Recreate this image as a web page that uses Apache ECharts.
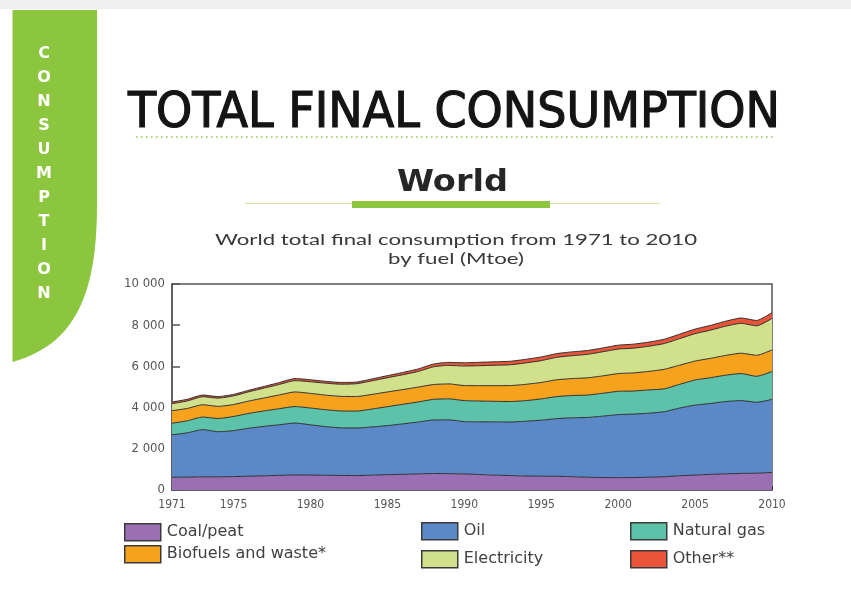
<!DOCTYPE html>
<html>
<head>
<meta charset="utf-8">
<script src="https://cdn.jsdelivr.net/npm/echarts@6/dist/echarts.min.js"></script>
<style>
  html, body { margin: 0; padding: 0; background: #ffffff; }
  #chart { width: 851px; height: 598px; }
</style>
</head>
<body>
<div id="chart"></div>
<script>
// World total final consumption by fuel, 1971-2010 (Mtoe)
const years = ['1971','1972','1973','1974','1975','1976','1977','1978','1979','1980',
  '1981','1982','1983','1984','1985','1986','1987','1988','1989','1990',
  '1991','1992','1993','1994','1995','1996','1997','1998','1999','2000',
  '2001','2002','2003','2004','2005','2006','2007','2008','2009','2010'];

const labelYears = ['1971','1975','1980','1985','1990','1995','2000','2005','2010'];

const coalPeat = [620,625,640,640,650,670,690,710,730,725,715,705,700,720,745,760,780,800,795,780,
  750,720,700,680,670,665,645,620,605,600,605,620,645,690,725,760,785,805,815,850];

const oil = [2060,2150,2290,2190,2230,2330,2400,2460,2520,2440,2360,2310,2310,2340,2380,2450,2520,2600,2610,2540,
  2560,2590,2600,2660,2720,2800,2860,2900,2980,3060,3080,3110,3155,3290,3395,3440,3510,3535,3445,3550];

const naturalGas = [560,585,610,640,690,720,750,780,800,815,820,820,820,870,920,950,975,1000,1020,1020,
  1010,995,995,1000,1030,1070,1080,1090,1110,1130,1120,1130,1110,1150,1220,1250,1280,1310,1260,1350];

const biofuels = [610,600,600,590,580,600,630,670,710,710,710,710,710,710,715,715,720,720,725,730,
  745,760,775,790,800,815,825,835,845,860,880,900,950,930,920,940,960,990,1020,1050];

const electricity = [340,365,390,400,420,450,480,510,550,565,580,590,620,660,690,720,760,860,900,950,
  970,990,1010,1040,1060,1090,1110,1140,1170,1190,1200,1220,1250,1290,1330,1370,1420,1450,1430,1530];

const other = [80,80,80,75,70,75,80,90,100,95,90,85,80,90,100,110,120,135,145,155,
  165,170,170,175,180,180,185,185,185,190,195,200,210,215,220,230,240,260,260,280];

const yTicks = [0, 2000, 4000, 6000, 8000, 10000];

const fuels = [
  { name: 'Coal/peat', data: coalPeat, color: '#9b6fb4' },
  { name: 'Oil', data: oil, color: '#5b88c6' },
  { name: 'Natural gas', data: naturalGas, color: '#5cc2a9' },
  { name: 'Biofuels and waste*', data: biofuels, color: '#f6a21c' },
  { name: 'Electricity', data: electricity, color: '#d1e18b' },
  { name: 'Other**', data: other, color: '#ea553a' }
];

// measure text so display lettering can be stretched to its box
const ctx = document.createElement('canvas').getContext('2d');
function textWidth(str, font) { ctx.font = font; return ctx.measureText(str).width; }

const titleText = 'TOTAL FINAL CONSUMPTION';
const titleFont = "30px 'Liberation Sans Narrow', 'DejaVu Sans Condensed', 'Liberation Sans'";
const titleScaleX = 652 / textWidth(titleText, titleFont);

const worldFont = "bold 31px 'DejaVu Sans'";
const worldScaleX = 111 / textWidth('World', worldFont);

const captionLine1 = 'World total final consumption from 1971 to 2010';
const captionFont = "16px 'Lato'";
const captionScaleX = 482 / textWidth(captionLine1, captionFont);

// outline of the green side tab: straight top part, curved lower edge
function tabOutline() {
  const pts = [[12.5, 10], [97, 10], [97, 205]];
  const p0 = [97, 205], c1 = [97, 300], c2 = [72, 345], p3 = [12.5, 362];
  for (let i = 1; i <= 24; i++) {
    const t = i / 24, u = 1 - t;
    pts.push([
      u*u*u*p0[0] + 3*u*u*t*c1[0] + 3*u*t*t*c2[0] + t*t*t*p3[0],
      u*u*u*p0[1] + 3*u*u*t*c1[1] + 3*u*t*t*c2[1] + t*t*t*p3[1]
    ]);
  }
  return pts;
}

const chart = echarts.init(document.getElementById('chart'), null, { renderer: 'canvas' });

const legendPos = [
  { left: 124, top: 523 },
  { left: 421, top: 522 },
  { left: 630, top: 522 },
  { left: 124, top: 545 },
  { left: 421, top: 550 },
  { left: 630, top: 550 }
];

const axisFont = "'Liberation Sans Narrow', 'DejaVu Sans Condensed', 'Liberation Sans'";

const option = {
  backgroundColor: '#ffffff',
  animation: false,
  grid: {
    left: 172, right: 79, top: 284, bottom: 108,
    show: true, borderColor: '#555555', borderWidth: 1.5, backgroundColor: 'transparent'
  },
  legend: fuels.map((f, i) => ({
    data: [f.name],
    left: legendPos[i].left,
    top: legendPos[i].top,
    padding: 0,
    icon: 'rect',
    itemWidth: 36,
    itemHeight: 17,
    itemGap: 6,
    selectedMode: false,
    itemStyle: { borderColor: '#3a3a3a', borderWidth: 1.5 },
    textStyle: { fontSize: 16, color: '#404040', fontFamily: 'DejaVu Sans', padding: [0, 0, 0, 1] }
  })),
  xAxis: {
    type: 'category',
    data: years,
    boundaryGap: false,
    axisLine: { lineStyle: { color: '#555555', width: 1.5 } },
    axisTick: { inside: true, length: 4, interval: 0, lineStyle: { color: '#333333' } },
    axisLabel: {
      interval: (idx, val) => labelYears.includes(val),
      margin: 9,
      fontSize: 12,
      color: '#555555',
      fontFamily: axisFont
    },
    splitLine: { show: false }
  },
  yAxis: {
    type: 'value',
    min: yTicks[0],
    max: yTicks[yTicks.length - 1],
    interval: 2000,
    axisLine: { show: true, lineStyle: { color: '#555555', width: 1.5 } },
    axisTick: { show: true, inside: true, length: 8, lineStyle: { color: '#555555', width: 1.5 } },
    axisLabel: {
      margin: 7,
      fontSize: 13,
      color: '#555555',
      fontFamily: axisFont,
      formatter: v => v >= 1000 ? String(v).replace(/\B(?=(\d{3})+(?!\d))/g, ' ') : String(v)
    },
    splitLine: { show: false }
  },
  series: fuels.map(f => ({
    name: f.name,
    type: 'line',
    stack: 'total',
    data: f.data,
    smooth: 0.2,
    showSymbol: false,
    symbol: 'none',
    itemStyle: { color: f.color },
    lineStyle: { color: '#2e2e2e', width: 1 },
    areaStyle: { color: f.color, opacity: 1 }
  })),
  graphic: [
    // grey page strip at the very top
    { type: 'rect', shape: { x: 0, y: 0, width: 851, height: 9 },
      style: { fill: '#efefef' }, silent: true },
    // green section tab
    { type: 'polygon', shape: { points: tabOutline() },
      style: { fill: '#8cc63f' }, silent: true },
    { type: 'text', x: 44, y: 42,
      style: { text: 'C\nO\nN\nS\nU\nM\nP\nT\nI\nO\nN', fill: '#ffffff', align: 'center',
        font: "bold 16px 'DejaVu Sans'", lineHeight: 24 }, silent: true },
    // page heading
    { type: 'text', x: 128, y: 90, scaleX: titleScaleX, scaleY: 1.63,
      style: { text: titleText, font: titleFont, fill: '#141414', stroke: '#141414', lineWidth: 0.7,
        verticalAlign: 'top' }, silent: true },
    { type: 'line', shape: { x1: 136, y1: 137, x2: 774, y2: 137 },
      style: { stroke: '#8dc63f', lineWidth: 1.5, lineDash: [1.5, 3.5] }, silent: true },
    // sub heading with green rule
    { type: 'text', x: 397, y: 167, scaleX: worldScaleX,
      style: { text: 'World', font: worldFont, fill: '#262626' }, silent: true },
    { type: 'line', shape: { x1: 245, y1: 203.5, x2: 660, y2: 203.5 },
      style: { stroke: '#cfe6a8', lineWidth: 1 }, silent: true },
    { type: 'rect', shape: { x: 352, y: 201, width: 198, height: 7 },
      style: { fill: '#8cc63f' }, silent: true },
    // chart caption
    { type: 'text', x: 456, y: 230, scaleX: captionScaleX,
      style: { text: captionLine1 + '\nby fuel (Mtoe)',
        font: captionFont, fill: '#383838', align: 'center', lineHeight: 19 }, silent: true }
  ]
};

chart.setOption(option);
</script>
</body>
</html>
